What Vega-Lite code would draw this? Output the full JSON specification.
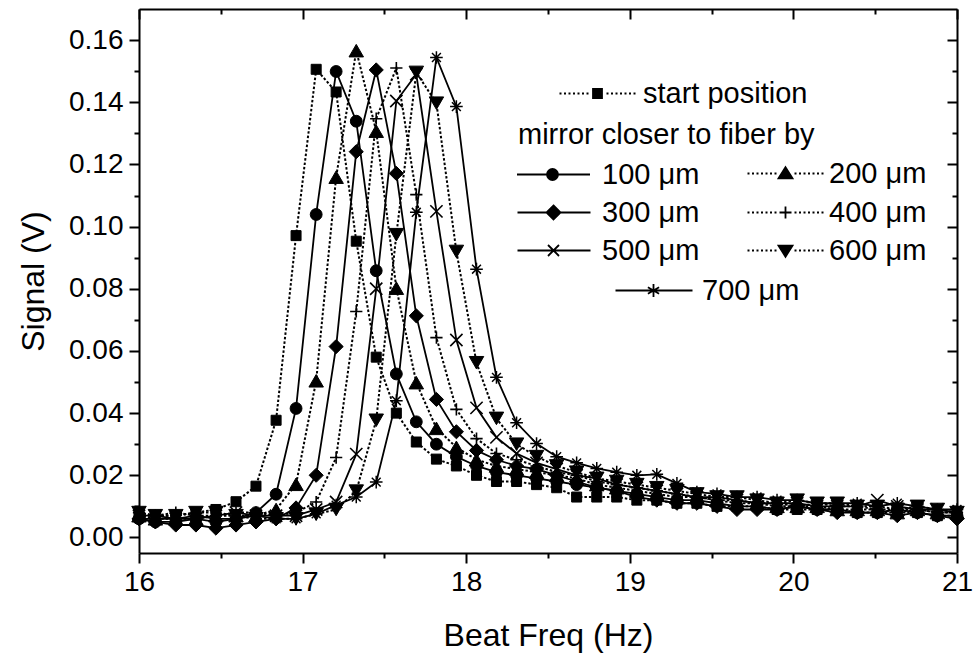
{
  "$schema": "https://vega.github.io/schema/vega-lite/v6.json",
  "width": 818,
  "height": 544,
  "autosize": {"type": "none"},
  "padding": {"left": 139, "top": 9, "right": 17, "bottom": 108},
  "background": "white",
  "config": {
    "font": "Liberation Sans",
    "view": {"stroke": null},
    "axis": {"grid": false, "domainColor": "black", "domainWidth": 2, "tickColor": "black", "tickWidth": 2, "labelColor": "black", "labelFontSize": 28, "titleColor": "black", "titleFontSize": 32, "titleFontWeight": "normal", "labelOverlap": false, "labelFlush": false},
    "legend": {"orient": "none", "padding": 0, "labelFontSize": 29, "labelColor": "black", "labelLimit": 500, "titleLimit": 600, "titleFontSize": 29, "titleFontWeight": "normal", "titleColor": "black", "symbolSize": 400, "symbolStrokeWidth": 1.8, "symbolStrokeColor": "black", "titlePadding": 10}
  },
  "data": {"values": [
    {"f": 16.0, "start position": 0.007, "100 μm": 0.006, "200 μm": 0.007, "300 μm": 0.006, "400 μm": 0.008, "500 μm": 0.007, "600 μm": 0.008, "700 μm": 0.006},
    {"f": 16.1, "start position": 0.007, "100 μm": 0.005, "200 μm": 0.006, "300 μm": 0.005, "400 μm": 0.007, "500 μm": 0.007, "600 μm": 0.007, "700 μm": 0.006},
    {"f": 16.225, "start position": 0.007, "100 μm": 0.005, "200 μm": 0.006, "300 μm": 0.004, "400 μm": 0.008, "500 μm": 0.006, "600 μm": 0.007, "700 μm": 0.006},
    {"f": 16.348, "start position": 0.008, "100 μm": 0.006, "200 μm": 0.006, "300 μm": 0.004, "400 μm": 0.007, "500 μm": 0.006, "600 μm": 0.008, "700 μm": 0.007},
    {"f": 16.47, "start position": 0.009, "100 μm": 0.005, "200 μm": 0.007, "300 μm": 0.003, "400 μm": 0.007, "500 μm": 0.007, "600 μm": 0.008, "700 μm": 0.006},
    {"f": 16.593, "start position": 0.0115, "100 μm": 0.006, "200 μm": 0.007, "300 μm": 0.004, "400 μm": 0.008, "500 μm": 0.008, "600 μm": 0.007, "700 μm": 0.006},
    {"f": 16.715, "start position": 0.0165, "100 μm": 0.008, "200 μm": 0.007, "300 μm": 0.005, "400 μm": 0.008, "500 μm": 0.007, "600 μm": 0.006, "700 μm": 0.007},
    {"f": 16.838, "start position": 0.0377, "100 μm": 0.0139, "200 μm": 0.009, "300 μm": 0.006, "400 μm": 0.007, "500 μm": 0.007, "600 μm": 0.006, "700 μm": 0.006},
    {"f": 16.96, "start position": 0.0971, "100 μm": 0.0415, "200 μm": 0.0171, "300 μm": 0.0095, "400 μm": 0.008, "500 μm": 0.007, "600 μm": 0.006, "700 μm": 0.006},
    {"f": 17.083, "start position": 0.1506, "100 μm": 0.1039, "200 μm": 0.0504, "300 μm": 0.020, "400 μm": 0.0114, "500 μm": 0.009, "600 μm": 0.0075, "700 μm": 0.0076},
    {"f": 17.205, "start position": 0.1433, "100 μm": 0.1499, "200 μm": 0.1159, "300 μm": 0.0614, "400 μm": 0.0257, "500 μm": 0.0114, "600 μm": 0.009, "700 μm": 0.0104},
    {"f": 17.328, "start position": 0.0953, "100 μm": 0.1339, "200 μm": 0.1566, "300 μm": 0.1241, "400 μm": 0.0727, "500 μm": 0.0268, "600 μm": 0.0149, "700 μm": 0.013},
    {"f": 17.45, "start position": 0.058, "100 μm": 0.0858, "200 μm": 0.1307, "300 μm": 0.1504, "400 μm": 0.1347, "500 μm": 0.080, "600 μm": 0.0377, "700 μm": 0.0178},
    {"f": 17.573, "start position": 0.040, "100 μm": 0.0526, "200 μm": 0.0802, "300 μm": 0.1171, "400 μm": 0.151, "500 μm": 0.1404, "600 μm": 0.0974, "700 μm": 0.044},
    {"f": 17.695, "start position": 0.0307, "100 μm": 0.0372, "200 μm": 0.0498, "300 μm": 0.0713, "400 μm": 0.1103, "500 μm": 0.149, "600 μm": 0.1496, "700 μm": 0.1046},
    {"f": 17.818, "start position": 0.0252, "100 μm": 0.030, "200 μm": 0.0351, "300 μm": 0.0444, "400 μm": 0.0643, "500 μm": 0.1049, "600 μm": 0.1397, "700 μm": 0.1544},
    {"f": 17.94, "start position": 0.023, "100 μm": 0.026, "200 μm": 0.029, "300 μm": 0.034, "400 μm": 0.0412, "500 μm": 0.0635, "600 μm": 0.092, "700 μm": 0.1386},
    {"f": 18.063, "start position": 0.020, "100 μm": 0.023, "200 μm": 0.025, "300 μm": 0.028, "400 μm": 0.0318, "500 μm": 0.0417, "600 μm": 0.0562, "700 μm": 0.0863},
    {"f": 18.185, "start position": 0.018, "100 μm": 0.021, "200 μm": 0.023, "300 μm": 0.025, "400 μm": 0.027, "500 μm": 0.0322, "600 μm": 0.0383, "700 μm": 0.0515},
    {"f": 18.308, "start position": 0.018, "100 μm": 0.020, "200 μm": 0.022, "300 μm": 0.023, "400 μm": 0.025, "500 μm": 0.027, "600 μm": 0.030, "700 μm": 0.0369},
    {"f": 18.43, "start position": 0.017, "100 μm": 0.019, "200 μm": 0.021, "300 μm": 0.022, "400 μm": 0.023, "500 μm": 0.024, "600 μm": 0.026, "700 μm": 0.0302},
    {"f": 18.553, "start position": 0.016, "100 μm": 0.018, "200 μm": 0.020, "300 μm": 0.020, "400 μm": 0.021, "500 μm": 0.022, "600 μm": 0.023, "700 μm": 0.026},
    {"f": 18.675, "start position": 0.013, "100 μm": 0.017, "200 μm": 0.019, "300 μm": 0.018, "400 μm": 0.020, "500 μm": 0.020, "600 μm": 0.021, "700 μm": 0.024},
    {"f": 18.798, "start position": 0.013, "100 μm": 0.016, "200 μm": 0.017, "300 μm": 0.016, "400 μm": 0.018, "500 μm": 0.019, "600 μm": 0.019, "700 μm": 0.0222},
    {"f": 18.92, "start position": 0.013, "100 μm": 0.015, "200 μm": 0.016, "300 μm": 0.015, "400 μm": 0.017, "500 μm": 0.017, "600 μm": 0.018, "700 μm": 0.021},
    {"f": 19.043, "start position": 0.012, "100 μm": 0.014, "200 μm": 0.015, "300 μm": 0.013, "400 μm": 0.016, "500 μm": 0.016, "600 μm": 0.017, "700 μm": 0.020},
    {"f": 19.165, "start position": 0.012, "100 μm": 0.013, "200 μm": 0.014, "300 μm": 0.012, "400 μm": 0.015, "500 μm": 0.015, "600 μm": 0.016, "700 μm": 0.0203},
    {"f": 19.288, "start position": 0.011, "100 μm": 0.012, "200 μm": 0.013, "300 μm": 0.011, "400 μm": 0.014, "500 μm": 0.014, "600 μm": 0.015, "700 μm": 0.0174},
    {"f": 19.41, "start position": 0.011, "100 μm": 0.012, "200 μm": 0.013, "300 μm": 0.011, "400 μm": 0.013, "500 μm": 0.013, "600 μm": 0.014, "700 μm": 0.0146},
    {"f": 19.533, "start position": 0.010, "100 μm": 0.011, "200 μm": 0.012, "300 μm": 0.010, "400 μm": 0.012, "500 μm": 0.013, "600 μm": 0.013, "700 μm": 0.014},
    {"f": 19.655, "start position": 0.010, "100 μm": 0.010, "200 μm": 0.011, "300 μm": 0.009, "400 μm": 0.012, "500 μm": 0.012, "600 μm": 0.013, "700 μm": 0.013},
    {"f": 19.778, "start position": 0.010, "100 μm": 0.010, "200 μm": 0.011, "300 μm": 0.009, "400 μm": 0.011, "500 μm": 0.011, "600 μm": 0.012, "700 μm": 0.013},
    {"f": 19.9, "start position": 0.009, "100 μm": 0.009, "200 μm": 0.010, "300 μm": 0.009, "400 μm": 0.011, "500 μm": 0.011, "600 μm": 0.011, "700 μm": 0.012},
    {"f": 20.023, "start position": 0.009, "100 μm": 0.010, "200 μm": 0.010, "300 μm": 0.010, "400 μm": 0.010, "500 μm": 0.011, "600 μm": 0.012, "700 μm": 0.012},
    {"f": 20.145, "start position": 0.009, "100 μm": 0.009, "200 μm": 0.010, "300 μm": 0.009, "400 μm": 0.011, "500 μm": 0.010, "600 μm": 0.011, "700 μm": 0.011},
    {"f": 20.268, "start position": 0.009, "100 μm": 0.009, "200 μm": 0.009, "300 μm": 0.008, "400 μm": 0.010, "500 μm": 0.010, "600 μm": 0.011, "700 μm": 0.011},
    {"f": 20.39, "start position": 0.008, "100 μm": 0.008, "200 μm": 0.009, "300 μm": 0.008, "400 μm": 0.010, "500 μm": 0.010, "600 μm": 0.010, "700 μm": 0.011},
    {"f": 20.513, "start position": 0.008, "100 μm": 0.008, "200 μm": 0.009, "300 μm": 0.008, "400 μm": 0.009, "500 μm": 0.012, "600 μm": 0.010, "700 μm": 0.010},
    {"f": 20.635, "start position": 0.008, "100 μm": 0.009, "200 μm": 0.008, "300 μm": 0.007, "400 μm": 0.009, "500 μm": 0.010, "600 μm": 0.009, "700 μm": 0.011},
    {"f": 20.758, "start position": 0.008, "100 μm": 0.008, "200 μm": 0.009, "300 μm": 0.008, "400 μm": 0.009, "500 μm": 0.009, "600 μm": 0.010, "700 μm": 0.010},
    {"f": 20.88, "start position": 0.007, "100 μm": 0.007, "200 μm": 0.008, "300 μm": 0.007, "400 μm": 0.008, "500 μm": 0.009, "600 μm": 0.009, "700 μm": 0.009},
    {"f": 21.0, "start position": 0.007, "100 μm": 0.007, "200 μm": 0.008, "300 μm": 0.006, "400 μm": 0.008, "500 μm": 0.008, "600 μm": 0.008, "700 μm": 0.009}
  ]},
  "transform": [
    {"fold": ["start position", "100 μm", "200 μm", "300 μm", "400 μm", "500 μm", "600 μm", "700 μm"], "as": ["series", "v"]}
  ],
  "encoding": {
    "x": {"field": "f", "type": "quantitative", "scale": {"domain": [16, 21], "nice": false, "zero": false}, "axis": null},
    "y": {"field": "v", "type": "quantitative", "scale": {"domain": [-0.005, 0.17], "nice": false, "zero": false}, "axis": null}
  },
  "layer": [
    {
      "transform": [{"filter": "false"}],
      "mark": {"type": "point", "opacity": 0},
      "encoding": {
        "x": {"field": "f", "type": "quantitative", "scale": {"domain": [16, 21], "nice": false, "zero": false},
              "axis": {"orient": "bottom", "values": [16, 17, 18, 19, 20, 21], "format": "d", "tickSize": 10, "labelPadding": 5, "title": "Beat Freq (Hz)", "titlePadding": 24}},
        "y": {"field": "v", "type": "quantitative", "scale": {"domain": [-0.005, 0.17], "nice": false, "zero": false},
              "axis": {"orient": "left", "values": [0, 0.02, 0.04, 0.06, 0.08, 0.1, 0.12, 0.14, 0.16], "format": ".2f", "tickSize": 10, "labelPadding": 6, "title": "Signal (V)", "titlePadding": 18}}
      }
    },
    {
      "transform": [{"filter": "false"}],
      "mark": {"type": "point", "opacity": 0},
      "encoding": {
        "x": {"field": "f", "type": "quantitative", "scale": {"domain": [16, 21], "nice": false, "zero": false},
              "axis": {"orient": "bottom", "values": [16.5, 17.5, 18.5, 19.5, 20.5], "tickSize": 5, "labels": false, "domain": false, "title": null}},
        "y": {"field": "v", "type": "quantitative", "scale": {"domain": [-0.005, 0.17], "nice": false, "zero": false},
              "axis": {"orient": "left", "values": [0.01, 0.03, 0.05, 0.07, 0.09, 0.11, 0.13, 0.15], "tickSize": 5, "labels": false, "domain": false, "title": null}}
      }
    },
    {
      "transform": [{"filter": "false"}],
      "mark": {"type": "point", "opacity": 0},
      "encoding": {
        "x": {"field": "f", "type": "quantitative", "scale": {"domain": [16, 21], "nice": false, "zero": false},
              "axis": {"orient": "top", "values": [16, 17, 18, 19, 20, 21], "tickSize": -10, "labels": false, "title": null}},
        "y": {"field": "v", "type": "quantitative", "scale": {"domain": [-0.005, 0.17], "nice": false, "zero": false},
              "axis": {"orient": "right", "values": [0, 0.02, 0.04, 0.06, 0.08, 0.1, 0.12, 0.14, 0.16], "tickSize": -10, "labels": false, "title": null}}
      }
    },
    {
      "transform": [{"filter": "false"}],
      "mark": {"type": "point", "opacity": 0},
      "encoding": {
        "x": {"field": "f", "type": "quantitative", "scale": {"domain": [16, 21], "nice": false, "zero": false},
              "axis": {"orient": "top", "values": [16.5, 17.5, 18.5, 19.5, 20.5], "tickSize": -5, "labels": false, "domain": false, "title": null}},
        "y": {"field": "v", "type": "quantitative", "scale": {"domain": [-0.005, 0.17], "nice": false, "zero": false},
              "axis": {"orient": "right", "values": [0.01, 0.03, 0.05, 0.07, 0.09, 0.11, 0.13, 0.15], "tickSize": -5, "labels": false, "domain": false, "title": null}}
      }
    },
    {
      "transform": [{"filter": "datum.series === 'start position'"}],
      "layer": [
        {"mark": {"type": "line", "color": "black", "strokeWidth": 2, "strokeDash": [2.5, 2]}, "encoding": {}},
        {"mark": {"type": "point", "shape": "square", "filled": true, "color": "black", "strokeWidth": 1, "opacity": 1, "size": 100},
         "encoding": {"stroke": {"field": "series", "type": "nominal", "scale": {"range": ["black"]},
           "legend": {"legendX": 444, "legendY": 70, "title": null, "labelOffset": 31,
             "symbolType": "M-3.8,0h0.2m0.25,0h0.2m0.25,0h0.2m0.25,0h0.2m0.25,0h0.2m0.25,0h0.2m0.25,0h0.2M0.9,0h0.2m0.25,0h0.2m0.25,0h0.2m0.25,0h0.2m0.25,0h0.2m0.25,0h0.2m0.25,0h0.2M-0.45,-0.45H0.45V0.45H-0.45Z"}}}}
      ]
    },
    {
      "transform": [{"filter": "datum.series === '100 μm'"}],
      "layer": [
        {"mark": {"type": "line", "color": "black", "strokeWidth": 1.8}, "encoding": {}},
        {"mark": {"type": "point", "shape": "circle", "filled": true, "color": "black", "strokeWidth": 1, "opacity": 1, "size": 140},
         "encoding": {"stroke": {"field": "series", "type": "nominal", "scale": {"range": ["black"]},
           "legend": {"legendX": 379, "legendY": 112, "title": "mirror closer to fiber by", "labelOffset": 55,
             "symbolType": "M-1.55,0H5.75M1.45,0A0.55,0.55 0 1,0 2.55,0A0.55,0.55 0 1,0 1.45,0Z"}}}}
      ]
    },
    {
      "transform": [{"filter": "datum.series === '200 μm'"}],
      "layer": [
        {"mark": {"type": "line", "color": "black", "strokeWidth": 2, "strokeDash": [2.5, 2]}, "encoding": {}},
        {"mark": {"type": "point", "shape": "triangle-up", "filled": true, "color": "black", "strokeWidth": 1, "opacity": 1, "size": 210},
         "encoding": {"stroke": {"field": "series", "type": "nominal", "scale": {"range": ["black"]},
           "legend": {"legendX": 632, "legendY": 150, "title": null, "labelOffset": 29,
             "symbolType": "M-3.8,0h0.2m0.25,0h0.2m0.25,0h0.2m0.25,0h0.2m0.25,0h0.2m0.25,0h0.2m0.25,0h0.2M0.9,0h0.2m0.25,0h0.2m0.25,0h0.2m0.25,0h0.2m0.25,0h0.2m0.25,0h0.2m0.25,0h0.2M0,-0.62L0.7,0.48L-0.7,0.48Z"}}}}
      ]
    },
    {
      "transform": [{"filter": "datum.series === '300 μm'"}],
      "layer": [
        {"mark": {"type": "line", "color": "black", "strokeWidth": 1.8}, "encoding": {}},
        {"mark": {"type": "point", "shape": "diamond", "filled": true, "color": "black", "strokeWidth": 1, "opacity": 1, "size": 200},
         "encoding": {"stroke": {"field": "series", "type": "nominal", "scale": {"range": ["black"]},
           "legend": {"legendX": 400, "legendY": 189, "title": null, "labelOffset": 34,
             "symbolType": "M-3.6,0H3.7M0,-0.7L0.7,0L0,0.7L-0.7,0Z"}}}}
      ]
    },
    {
      "transform": [{"filter": "datum.series === '400 μm'"}],
      "layer": [
        {"mark": {"type": "line", "color": "black", "strokeWidth": 2, "strokeDash": [2.5, 2]}, "encoding": {}},
        {"mark": {"type": "point", "shape": "M-1,0H1M0,-1V1", "filled": false, "color": "black", "size": 150, "strokeWidth": 1.6, "opacity": 1},
         "encoding": {"stroke": {"field": "series", "type": "nominal", "scale": {"range": ["black"]},
           "legend": {"legendX": 632, "legendY": 189, "title": null, "labelOffset": 29,
             "symbolType": "M-3.8,0h0.2m0.25,0h0.2m0.25,0h0.2m0.25,0h0.2m0.25,0h0.2m0.25,0h0.2m0.25,0h0.2M0.9,0h0.2m0.25,0h0.2m0.25,0h0.2m0.25,0h0.2m0.25,0h0.2m0.25,0h0.2m0.25,0h0.2M-0.6,0H0.6M0,-0.6V0.6"}}}}
      ]
    },
    {
      "transform": [{"filter": "datum.series === '500 μm'"}],
      "layer": [
        {"mark": {"type": "line", "color": "black", "strokeWidth": 1.8}, "encoding": {}},
        {"mark": {"type": "point", "shape": "M-1,-1L1,1M-1,1L1,-1", "filled": false, "color": "black", "size": 150, "strokeWidth": 1.6, "opacity": 1},
         "encoding": {"stroke": {"field": "series", "type": "nominal", "scale": {"range": ["black"]},
           "legend": {"legendX": 400, "legendY": 227, "title": null, "labelOffset": 34,
             "symbolType": "M-3.6,0H3.7M-0.55,-0.55L0.55,0.55M-0.55,0.55L0.55,-0.55"}}}}
      ]
    },
    {
      "transform": [{"filter": "datum.series === '600 μm'"}],
      "layer": [
        {"mark": {"type": "line", "color": "black", "strokeWidth": 2, "strokeDash": [2.5, 2]}, "encoding": {}},
        {"mark": {"type": "point", "shape": "triangle-down", "filled": true, "color": "black", "strokeWidth": 1, "opacity": 1, "size": 210},
         "encoding": {"stroke": {"field": "series", "type": "nominal", "scale": {"range": ["black"]},
           "legend": {"legendX": 632, "legendY": 227, "title": null, "labelOffset": 29,
             "symbolType": "M-3.8,0h0.2m0.25,0h0.2m0.25,0h0.2m0.25,0h0.2m0.25,0h0.2m0.25,0h0.2m0.25,0h0.2M0.9,0h0.2m0.25,0h0.2m0.25,0h0.2m0.25,0h0.2m0.25,0h0.2m0.25,0h0.2m0.25,0h0.2M0,0.62L0.7,-0.48L-0.7,-0.48Z"}}}}
      ]
    },
    {
      "transform": [{"filter": "datum.series === '700 μm'"}],
      "layer": [
        {"mark": {"type": "line", "color": "black", "strokeWidth": 1.8}, "encoding": {}},
        {"mark": {"type": "point", "shape": "M0,-1V1M-1,0H1M-0.7,-0.7L0.7,0.7M-0.7,0.7L0.7,-0.7", "filled": false, "color": "black", "size": 160, "strokeWidth": 1.5, "opacity": 1},
         "encoding": {"stroke": {"field": "series", "type": "nominal", "scale": {"range": ["black"]},
           "legend": {"legendX": 500, "legendY": 267, "title": null, "labelOffset": 34,
             "symbolType": "M-3.8,0H3.9M0,-0.65V0.65M-0.56,-0.33L0.56,0.33M-0.56,0.33L0.56,-0.33"}}}}
      ]
    }
  ],
  "resolve": {
    "axis": {"x": "independent", "y": "independent"},
    "scale": {"stroke": "independent"},
    "legend": {"stroke": "independent"}
  }
}
